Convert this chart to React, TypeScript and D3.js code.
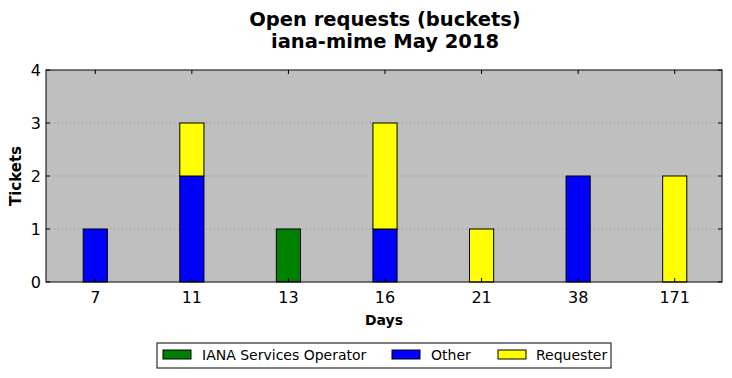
import React from "react";
import * as d3 from "d3";

const categories = ["7", "11", "13", "16", "21", "38", "171"];
const seriesNames = ["IANA Services Operator", "Other", "Requester"];
const ianaValues = [0, 0, 1, 0, 0, 0, 0];
const otherValues = [1, 2, 0, 1, 0, 2, 0];
const requesterValues = [0, 1, 0, 2, 1, 0, 2];
const yTicks = [0, 1, 2, 3, 4];
const colors = ["#008000", "#0000ff", "#ffff00"];

export default function App() {
  const W = 732, H = 378;
  const left = 46, right = 722, top = 70, bottom = 282;
  const x = d3.scaleBand().domain(categories).range([left + 1, right + 1]).paddingInner(0).paddingOuter(0);
  const y = d3.scaleLinear().domain([0, 4]).range([bottom, top]);
  const bw = x.step() * 0.25;
  const rows = categories.map((c, i) => ({ cat: c, a: ianaValues[i], b: otherValues[i], c2: requesterValues[i] }));
  const stack = d3.stack<any>().keys(["a", "b", "c2"])(rows);
  const font = "DejaVu Sans, sans-serif";
  const legendItems = [
    { name: seriesNames[0], px: 163, tx: 202 },
    { name: seriesNames[1], px: 392, tx: 431 },
    { name: seriesNames[2], px: 498, tx: 536 },
  ];
  return (
    <svg width={W} height={H} style={{ position: "absolute", left: 0, top: 0 }} fontFamily={font}>
      <rect x={0} y={0} width={W} height={H} fill="#fff" />
      <rect x={left} y={top} width={right - left} height={bottom - top} fill="#bfbfbf" />
      {yTicks.slice(1, -1).map((t) => (
        <line key={t} x1={left} x2={right} y1={y(t)} y2={y(t)} stroke="#8c8c8c" strokeWidth={1} strokeDasharray="1,3" />
      ))}
      {stack.map((s, si) =>
        s.map((d, i) =>
          d[1] - d[0] > 0 ? (
            <rect
              key={si + "-" + i}
              x={(x(categories[i]) as number) + x.step() / 2 - bw / 2}
              y={y(d[1])}
              width={bw}
              height={y(d[0]) - y(d[1])}
              fill={colors[si]}
              stroke="#000"
              strokeWidth={1}
            />
          ) : null
        )
      )}
      <rect x={left} y={top} width={right - left} height={bottom - top} fill="none" stroke="#000" strokeWidth={1} />
      {categories.map((c) => {
        const cx = (x(c) as number) + x.step() / 2;
        return (
          <g key={c}>
            <line x1={cx} x2={cx} y1={bottom} y2={bottom - 4} stroke="#000" />
            <line x1={cx} x2={cx} y1={top} y2={top + 4} stroke="#000" />
            <text x={cx} y={303} textAnchor="middle" fontSize={16}>{c}</text>
          </g>
        );
      })}
      {yTicks.map((t) => (
        <g key={t}>
          <line x1={left} x2={left + 4} y1={y(t)} y2={y(t)} stroke="#000" />
          <line x1={right} x2={right - 4} y1={y(t)} y2={y(t)} stroke="#000" />
          <text x={left - 5} y={y(t) + 6} textAnchor="end" fontSize={16}>{t}</text>
        </g>
      ))}
      <text x={385} y={26} textAnchor="middle" fontSize={19.5} fontWeight="bold">Open requests (buckets)</text>
      <text x={385} y={48} textAnchor="middle" fontSize={19.5} fontWeight="bold">iana-mime May 2018</text>
      <text x={384} y={325} textAnchor="middle" fontSize={14} fontWeight="bold">Days</text>
      <text transform={`translate(21,${(top + bottom) / 2}) rotate(-90)`} textAnchor="middle" fontSize={15} fontWeight="bold">Tickets</text>
      <rect x={157} y={343} width={454} height={25} fill="#fff" stroke="#000" strokeWidth={1} />
      {legendItems.map((l, i) => (
        <g key={l.name}>
          <rect x={l.px} y={350} width={28} height={9} fill={colors[i]} stroke="#000" strokeWidth={1} />
          <text x={l.tx} y={360} fontSize={14}>{l.name}</text>
        </g>
      ))}
    </svg>
  );
}
